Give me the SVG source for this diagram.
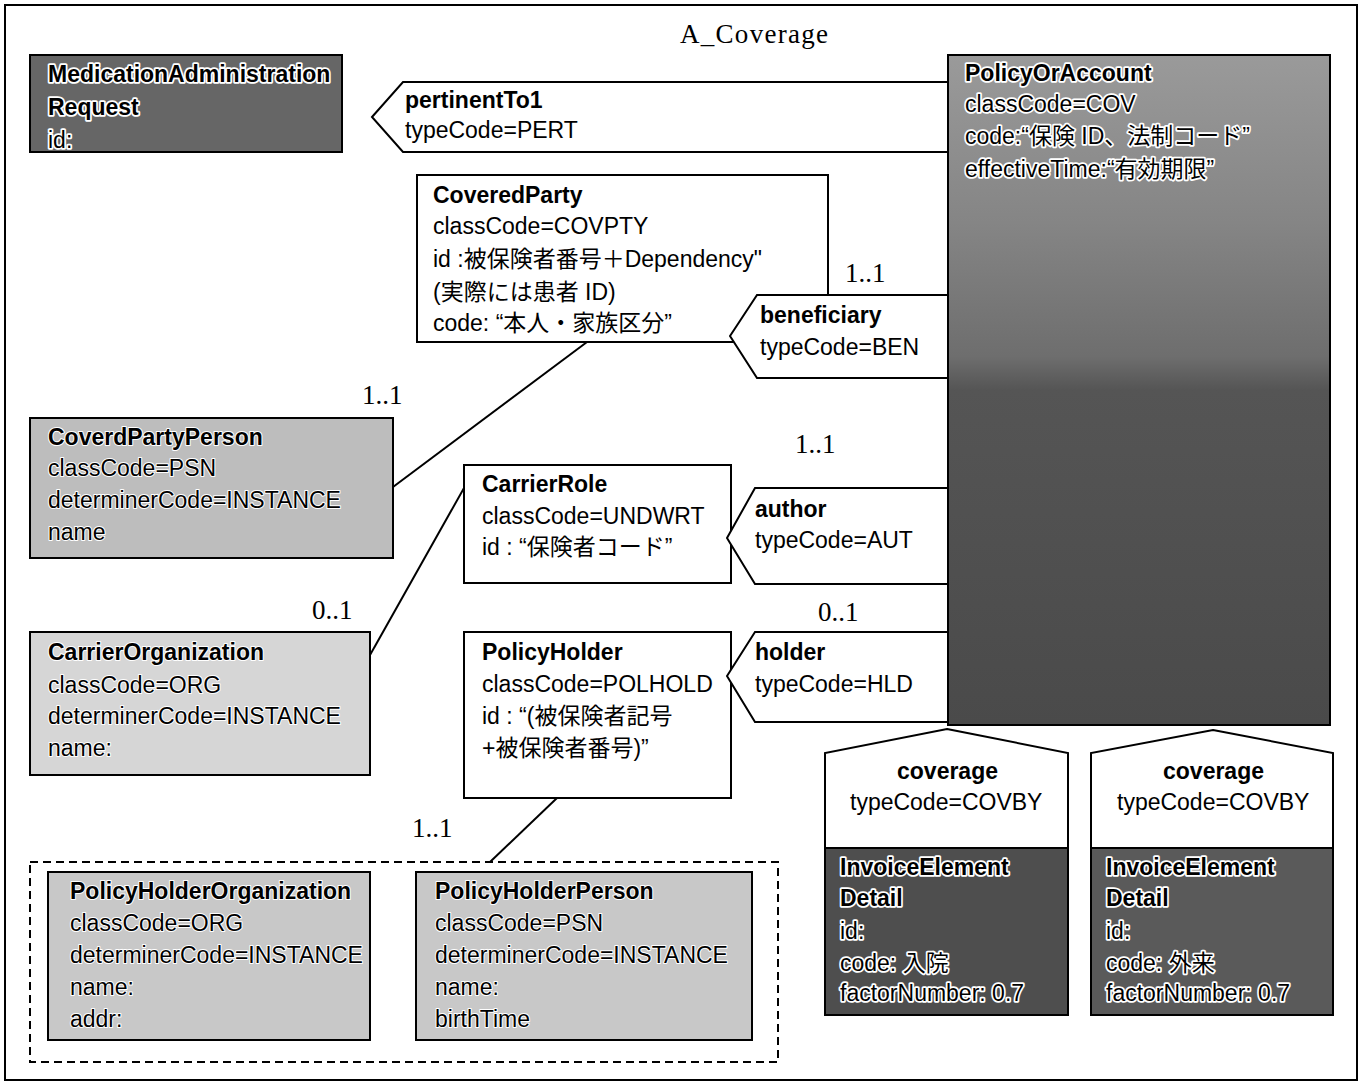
<svg xmlns="http://www.w3.org/2000/svg" width="1363" height="1085" viewBox="0 0 1363 1085">
<style>
text{font-family:"Liberation Sans",Arial,"Noto Sans CJK JP",sans-serif;font-size:23px;fill:#000}
.b{font-weight:bold}
.h{stroke:#fff;stroke-width:3.5px;paint-order:stroke;stroke-linejoin:round}
.g{stroke:#fff;stroke-width:2px;paint-order:stroke;stroke-linejoin:round}
.m{font-family:"Liberation Serif","Times New Roman",serif;font-size:27px}
.box{stroke:#000;stroke-width:2}
.w{fill:#fff}
.conn{fill:#fff;stroke:#000;stroke-width:2}
.ln{stroke:#000;stroke-width:2;fill:none}
</style>
<defs>
<linearGradient id="gPOA" x1="0" y1="0" x2="0" y2="1">
<stop offset="0" stop-color="#9a9a9a"/>
<stop offset="0.25" stop-color="#858585"/>
<stop offset="0.45" stop-color="#6e6e6e"/>
<stop offset="0.5" stop-color="#555"/>
<stop offset="1" stop-color="#4a4a4a"/>
</linearGradient>
</defs>
<rect x="0" y="0" width="1363" height="1085" fill="#fff"/>
<rect x="5" y="5" width="1352" height="1075" fill="none" stroke="#000" stroke-width="2"/>
<text class="m" x="680" y="43" textLength="148">A_Coverage</text>

<g id="connectors">
<line class="ln" x1="587" y1="342" x2="393" y2="487"/>
<line class="ln" x1="464" y1="488" x2="370" y2="655"/>
<line class="ln" x1="557" y1="798" x2="490" y2="862"/>
</g>

<g id="MedicationAdministrationRequest">
<rect class="box" x="30" y="55" width="312" height="97" fill="#666"/>
<text class="b h" x="48" y="82">MedicationAdministration</text>
<text class="b h" x="48" y="115">Request</text>
<text class="h" x="48" y="148">id:</text>
</g>

<g id="pertinentTo1">
<polygon class="conn" points="372,117 403,82 948,82 948,152 403,152"/>
<text class="b" x="405" y="108">pertinentTo1</text>
<text x="405" y="138">typeCode=PERT</text>
</g>

<g id="PolicyOrAccount">
<rect class="box" x="948" y="55" width="382" height="670" fill="url(#gPOA)"/>
<text class="b h" x="965" y="81">PolicyOrAccount</text>
<text class="h" x="965" y="112">classCode=COV</text>
<text class="h" x="965" y="144">code:“保険 ID、法制コード”</text>
<text class="h" x="965" y="177">effectiveTime:“有効期限”</text>
</g>

<g id="CoveredParty">
<rect class="box w" x="417" y="175" width="411" height="167"/>
<text class="b" x="433" y="203">CoveredParty</text>
<text x="433" y="234">classCode=COVPTY</text>
<text x="433" y="267">id :被保険者番号＋Dependency"</text>
<text x="433" y="300">(実際には患者 ID)</text>
<text x="433" y="331">code: “本人・家族区分”</text>
</g>

<g id="beneficiary">
<polygon class="conn" points="730,336 757,295 948,295 948,378 757,378"/>
<text class="b" x="760" y="323">beneficiary</text>
<text x="760" y="355">typeCode=BEN</text>
</g>
<text class="m" x="845" y="282">1..1</text>

<g id="CoverdPartyPerson">
<rect class="box" x="30" y="418" width="363" height="140" fill="#bdbdbd"/>
<text class="b g" x="48" y="445">CoverdPartyPerson</text>
<text class="g" x="48" y="476">classCode=PSN</text>
<text class="g" x="48" y="508">determinerCode=INSTANCE</text>
<text class="g" x="48" y="540">name</text>
</g>
<text class="m" x="362" y="404">1..1</text>

<g id="CarrierRole">
<rect class="box w" x="464" y="465" width="267" height="118"/>
<text class="b" x="482" y="492">CarrierRole</text>
<text x="482" y="524">classCode=UNDWRT</text>
<text x="482" y="555">id : “保険者コード”</text>
</g>

<g id="author">
<polygon class="conn" points="727,538 755,488 948,488 948,584 755,584"/>
<text class="b" x="755" y="517">author</text>
<text x="755" y="548">typeCode=AUT</text>
</g>
<text class="m" x="795" y="453">1..1</text>

<g id="CarrierOrganization">
<rect class="box" x="30" y="632" width="340" height="143" fill="#d6d6d6"/>
<text class="b g" x="48" y="660">CarrierOrganization</text>
<text class="g" x="48" y="693">classCode=ORG</text>
<text class="g" x="48" y="724">determinerCode=INSTANCE</text>
<text class="g" x="48" y="756">name:</text>
</g>
<text class="m" x="312" y="619">0..1</text>

<g id="PolicyHolder">
<rect class="box w" x="464" y="632" width="267" height="166"/>
<text class="b" x="482" y="660">PolicyHolder</text>
<text x="482" y="692">classCode=POLHOLD</text>
<text x="482" y="724">id : “(被保険者記号</text>
<text x="482" y="756">+被保険者番号)”</text>
</g>

<g id="holder">
<polygon class="conn" points="727,676 755,632 948,632 948,722 755,722"/>
<text class="b" x="755" y="660">holder</text>
<text x="755" y="692">typeCode=HLD</text>
</g>
<text class="m" x="818" y="621">0..1</text>

<g id="PolicyHolderGroup">
<rect x="30" y="862" width="748" height="200" fill="none" stroke="#000" stroke-width="2" stroke-dasharray="8,5"/>
</g>
<text class="m" x="412" y="837">1..1</text>

<g id="PolicyHolderOrganization">
<rect class="box" x="48" y="872" width="322" height="168" fill="#c8c8c8"/>
<text class="b g" x="70" y="899">PolicyHolderOrganization</text>
<text class="g" x="70" y="931">classCode=ORG</text>
<text class="g" x="70" y="963">determinerCode=INSTANCE</text>
<text class="g" x="70" y="995">name:</text>
<text class="g" x="70" y="1027">addr:</text>
</g>

<g id="PolicyHolderPerson">
<rect class="box" x="416" y="872" width="336" height="168" fill="#c8c8c8"/>
<text class="b g" x="435" y="899">PolicyHolderPerson</text>
<text class="g" x="435" y="931">classCode=PSN</text>
<text class="g" x="435" y="963">determinerCode=INSTANCE</text>
<text class="g" x="435" y="995">name:</text>
<text class="g" x="435" y="1027">birthTime</text>
</g>

<g id="coverage1">
<polygon class="conn" points="947,729 1068,753 1068,848 825,848 825,753"/>
<text class="b" x="897" y="779">coverage</text>
<text x="850" y="810">typeCode=COVBY</text>
</g>

<g id="InvoiceElementDetail1">
<rect class="box" x="825" y="848" width="243" height="167" fill="#4e4e4e"/>
<text class="b h" x="840" y="875">InvoiceElement</text>
<text class="b h" x="840" y="906">Detail</text>
<text class="h" x="840" y="939">id:</text>
<text class="h" x="840" y="971">code: 入院</text>
<text class="h" x="840" y="1001">factorNumber: 0.7</text>
</g>

<g id="coverage2">
<polygon class="conn" points="1213,730 1333,753 1333,848 1091,848 1091,753"/>
<text class="b" x="1163" y="779">coverage</text>
<text x="1117" y="810">typeCode=COVBY</text>
</g>

<g id="InvoiceElementDetail2">
<rect class="box" x="1091" y="848" width="242" height="167" fill="#5a5a5a"/>
<text class="b h" x="1106" y="875">InvoiceElement</text>
<text class="b h" x="1106" y="906">Detail</text>
<text class="h" x="1106" y="939">id:</text>
<text class="h" x="1106" y="971">code: 外来</text>
<text class="h" x="1106" y="1001">factorNumber: 0.7</text>
</g>
</svg>
